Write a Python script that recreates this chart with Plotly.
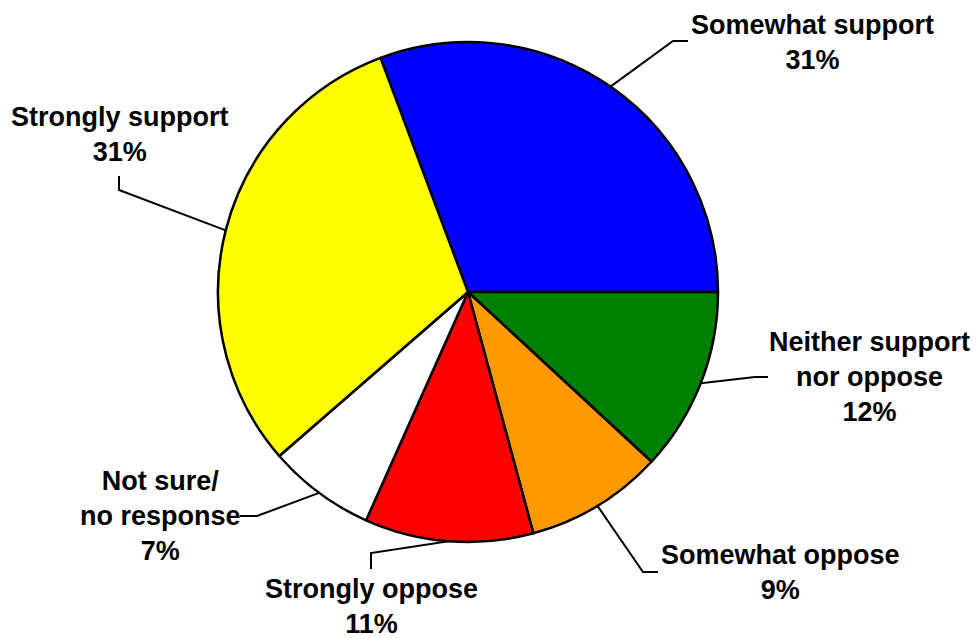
import math
import plotly.graph_objects as go

# ---- data ----
categories = ["Somewhat support", "Neither support nor oppose", "Somewhat oppose",
              "Strongly oppose", "Not sure/ no response", "Strongly support"]
label_text = ["Somewhat support", "Neither support<br>nor oppose", "Somewhat oppose",
              "Strongly oppose", "Not sure/<br>no response", "Strongly support"]
values = [31, 12, 9, 11, 7, 31]
colors = ["#0000FF", "#008000", "#FF9900", "#FF0000", "#FFFFFF", "#FFFF00"]

# ---- layout / style ----
OFF = 8  # page body margin in the browser
W, H = 979, 638
ML, MR, MT, MB = 218 - OFF, 261 + OFF, 42 - OFF, 96 + OFF
PW, PH = W - ML - MR, H - MT - MB
CX, CY = ML + PW / 2, MT + PH / 2
R = min(PW, PH) / 2

# label placement (window pixels): text centre, elbow, end of leader
label_pos = [
    dict(tx=812, ty=42, elbow=(673, 41), end=(688, 41)),
    dict(tx=869, ty=377, elbow=(755, 377), end=(768, 377)),
    dict(tx=780, ty=572, elbow=(643, 572), end=(658, 572)),
    dict(tx=371, ty=606, elbow=(371, 553), end=(371, 569)),
    dict(tx=160, ty=516, elbow=(257, 516), end=(240, 516)),
    dict(tx=120, ty=135, elbow=(119, 190), end=(119, 176)),
]

total = sum(values)
rotation = 90 - 360 * values[0] / total


def px2paper(x, y, win=True):
    if win:
        x, y = x - OFF, y - OFF
    return (x - ML) / PW, 1 - (y - MT) / PH


fig = go.Figure(go.Pie(
    labels=categories, values=values, sort=False, direction="clockwise",
    rotation=rotation, textinfo="none", hoverinfo="none",
    marker=dict(colors=colors, line=dict(color="black", width=2.5)),
    showlegend=False,
))

shapes, annotations = [], []
acc = 0
for i, v in enumerate(values):
    mid = math.radians(rotation + 360 * (acc + v / 2) / total)
    acc += v
    sx, sy = CX + R * math.sin(mid), CY - R * math.cos(mid)
    lp = label_pos[i]
    pts = [px2paper(sx, sy, win=False), px2paper(*lp["elbow"]), px2paper(*lp["end"])]
    path = "M {} {} L {} {} L {} {}".format(*[c for p in pts for c in p])
    shapes.append(dict(type="path", xref="paper", yref="paper", path=path,
                       line=dict(color="black", width=2)))
    ax, ay = px2paper(lp["tx"], lp["ty"])
    annotations.append(dict(
        x=ax, y=ay, xref="paper", yref="paper", xanchor="center", yanchor="middle",
        text=f"{label_text[i]}<br>{v}%", showarrow=False, align="center",
        font=dict(family="Liberation Sans, Arial, sans-serif", size=27, color="black",
                  weight="bold"),
    ))

fig.update_layout(
    width=W, height=H, margin=dict(l=ML, r=MR, t=MT, b=MB, pad=0),
    paper_bgcolor="white", plot_bgcolor="white",
    shapes=shapes, annotations=annotations,
)

fig.write_html("out.html")
